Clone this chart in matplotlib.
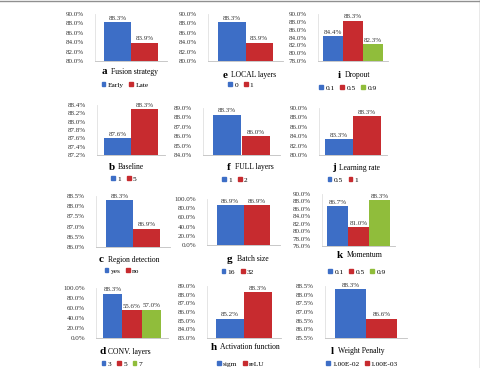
import numpy as np
import matplotlib
matplotlib.use("Agg")
import matplotlib.pyplot as plt
from matplotlib.patches import Patch
from matplotlib.lines import Line2D

plt.rcParams['font.family'] = ['Liberation Serif', 'DejaVu Serif']

# accuracy (%) per setting, one pair of lists per panel
fusion_cats = ['Early', 'Late']
fusion_acc = [88.3, 83.9]
local_cats = ['0', '1']
local_acc = [88.3, 83.9]
dropout_cats = ['0.1', '0.5', '0.9']
dropout_acc = [84.4, 88.3, 82.3]
baseline_cats = ['1', '5']
baseline_acc = [87.6, 88.3]
full_cats = ['1', '2']
full_acc = [88.3, 86.0]
lr_cats = ['0.5', '1']
lr_acc = [83.3, 88.3]
region_cats = ['yes', 'no']
region_acc = [88.3, 86.9]
batch_cats = ['16', '32']
batch_acc = [86.9, 86.9]
momentum_cats = ['0.1', '0.5', '0.9']
momentum_acc = [86.7, 81.0, 88.3]
conv_cats = ['3', '5', '7']
conv_acc = [88.3, 55.6, 57.0]
act_cats = ['sigm', 'reLU']
act_acc = [85.2, 88.3]
wp_cats = ['1.00E-02', '1.00E-03']
wp_acc = [88.3, 86.6]

colors = ['#3D6EC6', '#C72B2F', '#90BD3B']
W, H = 481, 368

fig = plt.figure(figsize=(W / 100, H / 100), dpi=100)

def panel(letter, name, cats, vals, ylo, yhi, step, box, pad, ttl, leg):
    l, t, r, b = box
    ax = fig.add_axes([l / W, 1 - b / H, (r - l) / W, (b - t) / H])
    n = len(cats)
    x = np.arange(n)
    ax.bar(x, vals, width=1.0, color=colors[:n], zorder=2)
    for xi, v in zip(x, vals):
        ax.text(xi, v + (yhi - ylo) * 0.03, '%.1f%%' % v, ha='center', va='bottom',
                fontsize=5, color='#333333')
    ax.set_xlim(-0.5 - pad, n - 0.5 + pad)
    ax.set_ylim(ylo, yhi)
    ticks = np.arange(ylo, yhi + step / 2, step)
    ax.set_yticks(ticks)
    ax.set_yticklabels(['%.1f%%' % v for v in ticks], fontsize=5, color='#333333')
    ax.set_xticks([])
    ax.tick_params(axis='y', length=0, pad=8)
    for s in ['top', 'right']:
        ax.spines[s].set_visible(False)
    ax.spines['left'].set_color('#E0E0E0')
    ax.spines['bottom'].set_color('#BFBFBF')
    ax.spines['left'].set_linewidth(0.6)
    ax.spines['bottom'].set_linewidth(0.6)
    # caption: bold letter + name
    fig.text(ttl[0] / W, 1 - ttl[1] / H, letter, fontsize=8, fontweight='bold',
             ha='left', va='center')
    fig.text(ttl[2] / W, 1 - ttl[1] / H, name, fontsize=5.5, ha='left', va='center')
    handles = [Patch(color=colors[i]) for i in range(n)]
    fig.legend(handles, cats, loc='center', bbox_to_anchor=(leg[0] / W, 1 - leg[1] / H),
               ncol=n, frameon=False, fontsize=5.3, handlelength=0.5, handleheight=0.5,
               handletextpad=0.3, columnspacing=0.8, borderpad=0, borderaxespad=0)

panel('a', 'Fusion strategy', fusion_cats, fusion_acc, 80, 90, 2,
      (95, 14, 167, 61), 0.33, (102, 72, 111), (125, 85))
panel('e', 'LOCAL layers', local_cats, local_acc, 80, 90, 2,
      (208, 14, 283, 61), 0.36, (223, 75, 231), (241, 85))
panel('i', 'Dropout', dropout_cats, dropout_acc, 78, 90, 2,
      (318, 14, 388, 61), 0.25, (338, 75, 345), (348, 88))
panel('b', 'Baseline', baseline_cats, baseline_acc, 87.2, 88.4, 0.2,
      (97, 105, 165, 155), 0.26, (109, 167, 118), (124, 179))
panel('f', 'FULL layers', full_cats, full_acc, 84, 89, 1,
      (203, 108, 280, 155), 0.35, (227, 167, 235), (235, 180))
panel('j', 'Learning rate', lr_cats, lr_acc, 80, 90, 2,
      (319, 108, 387, 155), 0.21, (332, 168, 339), (343, 180))
panel('c', 'Region detection', region_cats, region_acc, 86, 88.5, 0.5,
      (96, 196, 170, 247), 0.37, (99, 260, 108), (122, 271))
panel('g', 'Batch size', batch_cats, batch_acc, 0, 100, 20,
      (207, 199, 280, 245), 0.37, (227, 259, 237), (238, 272))
panel('k', 'Momentum', momentum_cats, momentum_acc, 76, 90, 2,
      (322, 194, 395, 246), 0.24, (337, 255, 347), (357, 272))
panel('d', 'CONV. layers', conv_cats, conv_acc, 0, 100, 20,
      (96, 288, 168, 338), 0.37, (99, 352, 108), (122, 364))
panel('h', 'Activation function', act_cats, act_acc, 83, 89, 1,
      (207, 286, 281, 338), 0.32, (211, 347, 220), (241, 364))
panel('l', 'Weight Penalty', wp_cats, wp_acc, 85.5, 88.5, 0.5,
      (325, 286, 407, 338), 0.32, (331, 351, 338), (362, 364))

# gray frame on top and right edges
fig.add_artist(Line2D([0, 1], [0.998, 0.998], transform=fig.transFigure, color='#909090', lw=1))
fig.add_artist(Line2D([0.998, 0.998], [0, 1], transform=fig.transFigure, color='#909090', lw=1))

fig.savefig('out.png', dpi=100)
